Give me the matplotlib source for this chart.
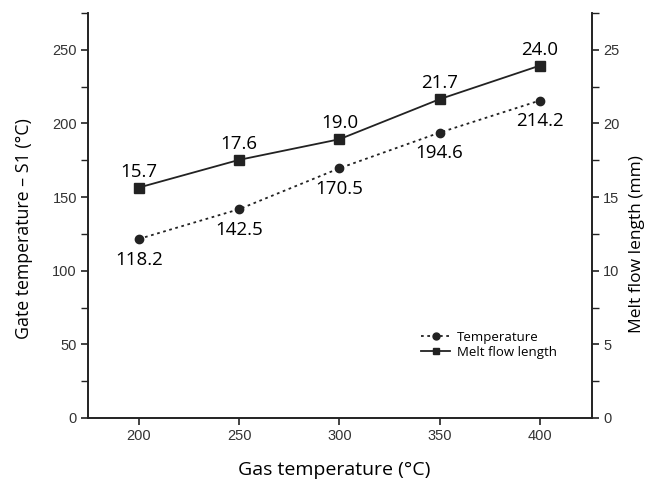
import matplotlib
matplotlib.use("Agg")
import matplotlib.pyplot as plt
from matplotlib.ticker import MultipleLocator

gas_temp = [200, 250, 300, 350, 400]
gate_temp = [121.6, 141.8, 169.6, 193.8, 215.6]
gate_labels = ["118.2", "142.5", "170.5", "194.6", "214.2"]
melt_len = [15.65, 17.53, 18.93, 21.65, 23.93]
melt_labels = ["15.7", "17.6", "19.0", "21.7", "24.0"]

txt_font = ["Open Sans", "DejaVu Sans"]
tick_font = ["Liberation Sans", "DejaVu Sans"]

fig = plt.figure(figsize=(6.51, 4.83), dpi=100)
ax = fig.add_axes([0.1352, 0.1346, 0.9094 - 0.1352, 0.973 - 0.1346])
ax2 = ax.twinx()

l1, = ax.plot(gas_temp, gate_temp, color="#222222", linestyle=(0, (1.5, 2.0)), lw=1.3,
              marker="o", markersize=6, label="Temperature")
l2, = ax2.plot(gas_temp, melt_len, color="#222222", linestyle="-", lw=1.3,
               marker="s", markersize=6.5, label="Melt flow length")

for x, y, s in zip(gas_temp, gate_temp, gate_labels):
    ax.annotate(s, (x, y), xytext=(0, -8.5), textcoords="offset points",
                ha="center", va="top", fontsize=13.5, family=txt_font)
for x, y, s in zip(gas_temp, melt_len, melt_labels):
    ax2.annotate(s, (x, y), xytext=(0, 5), textcoords="offset points",
                 ha="center", va="bottom", fontsize=13.5, family=txt_font)

ax.set_xlim(174.6, 426)
ax.set_ylim(0, 275)
ax2.set_ylim(0, 27.5)
ax.set_xticks([200, 250, 300, 350, 400])
ax.yaxis.set_major_locator(MultipleLocator(50))
ax.yaxis.set_minor_locator(MultipleLocator(25))
ax2.yaxis.set_major_locator(MultipleLocator(5))
ax2.yaxis.set_minor_locator(MultipleLocator(2.5))

for a in (ax, ax2):
    a.spines["top"].set_visible(False)
    for sp in a.spines.values():
        sp.set_linewidth(1.2)
        sp.set_color("#222222")
    a.tick_params(axis="both", which="major", length=5, width=1.2, color="#222222",
                  labelsize=10.5, labelcolor="#333333", pad=3)
    a.tick_params(axis="both", which="minor", length=5, width=1.0, color="#222222")
    for lab in a.get_xticklabels() + a.get_yticklabels():
        lab.set_family(tick_font)

ax.set_xlabel("Gas temperature (°C)", fontsize=14, family=txt_font)
ax.xaxis.set_label_coords(0.488, -0.128)
ax.xaxis.label.set_va("center")

ax.set_ylabel("Gate temperature – S1 (°C)", fontsize=12.8, family=txt_font)
ax.yaxis.set_label_coords(-0.127, 0.469)
ax.yaxis.label.set_va("center")

ax2.set_ylabel("Melt flow length (mm)", fontsize=12.5, family=txt_font)
ax2.yaxis.set_label_coords(1.09, 0.43)
ax2.yaxis.label.set_va("center")

leg = ax.legend(handles=[l1, l2], loc="upper left", bbox_to_anchor=(0.638, 0.245),
                frameon=False, handlelength=2.2, handletextpad=0.5,
                labelspacing=0.15, prop={"family": txt_font, "size": 9.5})
for h in leg.legend_handles:
    h.set_markersize(5)

fig.savefig("out.png", dpi=100)
